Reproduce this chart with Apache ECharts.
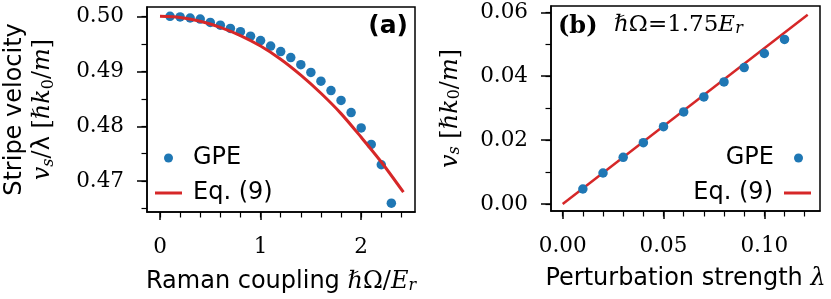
<!DOCTYPE html>
<html>
<head>
<meta charset="utf-8">
<script src="https://cdn.jsdelivr.net/npm/echarts@6/dist/echarts.min.js"></script>
<style>
html,body{margin:0;padding:0;background:#fff;}
#chart{width:831px;height:299px;}
</style>
</head>
<body>
<div id="chart"></div>
<script>
// ---- Panel (a): stripe velocity vs Raman coupling ----
const omegaGPE = [0.1,0.2,0.3,0.4,0.5,0.6,0.7,0.8,0.9,1.0,1.1,1.2,1.3,1.4,1.5,1.6,1.7,1.8,1.9,2.0,2.1,2.2,2.3];
const velGPE   = [0.5000,0.4999,0.4997,0.4995,0.4989,0.4984,0.4978,0.4972,0.4964,0.4956,0.4946,0.4936,0.4925,0.4912,0.4898,0.4882,0.4865,0.4847,0.4825,0.4797,0.4767,0.4730,0.4660];
const omegaEq  = [0,0.2,0.4,0.6,0.8,1.0,1.2,1.4,1.6,1.8,2.0,2.2,2.42];
const velEq    = [0.5000,0.4998,0.4991,0.4980,0.4965,0.4946,0.4922,0.4893,0.4860,0.4823,0.4780,0.4735,0.4680];

// ---- Panel (b): v_s vs perturbation strength ----
const lamGPE = [0.01,0.02,0.03,0.04,0.05,0.06,0.07,0.08,0.09,0.10,0.11];
const vsGPE  = [0.0047,0.0097,0.0146,0.0192,0.0242,0.0288,0.0335,0.0382,0.0427,0.0471,0.0515];
const lamEq  = [0,0.1215];
const vsEq   = [0,0.0592];

// ---- tick labels / tick positions ----
const aXMajor = [0,1,2];
const aXMinor = [0,0.2,0.4,0.6,0.8,1.0,1.2,1.4,1.6,1.8,2.0,2.2,2.4];
const aYMajor = [0.47,0.48,0.49,0.50];
const aYMinor = [0.465,0.47,0.475,0.48,0.485,0.49,0.495,0.50];
const bXMajor = [0,0.05,0.10];
const bXMinor = [0,0.01,0.02,0.03,0.04,0.05,0.06,0.07,0.08,0.09,0.10,0.11,0.12];
const bYMajor = [0,0.02,0.04,0.06];
const bYMinor = [0,0.01,0.02,0.03,0.04,0.05,0.06];

const BLUE = '#1f77b4', RED = '#d62728';
const SANS = 'DejaVu Sans', SERIF = 'DejaVu Serif';
const FS = 24;
const rich = {
  t:   {fontFamily: SANS, fontSize: FS, color:'#000'},
  m:   {fontFamily: SERIF, fontStyle:'italic', fontSize: FS, color:'#000'},
  mu:  {fontFamily: SERIF, fontSize: FS, color:'#000'},
  sub: {fontFamily: SERIF, fontSize: 16, color:'#000', verticalAlign:'bottom'},
  subi:{fontFamily: SERIF, fontStyle:'italic', fontSize: 16, color:'#000', verticalAlign:'bottom'}
};
const zip = (a,b) => a.map((v,i)=>[v,b[i]]);

const labelStyle = {fontFamily: SERIF, fontSize: 21.5, color:'#000'};
function majorAxis(gi, pos, min, max, ticks, len, margin, fmt, extra) {
  return Object.assign({
    type:'value', gridIndex: gi, position: pos, min, max,
    axisLine:{show:true, onZero:false, lineStyle:{color:'#000', width:1.5}},
    axisTick:{show:true, inside:false, length:len, customValues: ticks, lineStyle:{color:'#000', width:1.5}},
    axisLabel:Object.assign({show:true, margin, customValues: ticks, formatter: fmt}, labelStyle),
    splitLine:{show:false}
  }, extra||{});
}
function minorAxis(gi, pos, min, max, ticks) {
  return {
    type:'value', gridIndex: gi, position: pos, min, max,
    axisLine:{show:false, onZero:false},
    axisTick:{show:true, inside:false, length:5.5, customValues: ticks, lineStyle:{color:'#000', width:1.2}},
    axisLabel:{show:false},
    splitLine:{show:false}
  };
}
const legText = (pad) => ({fontFamily:SANS, fontSize:24, color:'#000', padding:pad});

const chart = echarts.init(document.getElementById('chart'), null, {renderer:'canvas'});
chart.setOption({
  animation:false,
  backgroundColor:'#fff',
  grid:[
    {left:146, top:7, width:269, height:206, show:true, borderColor:'#000', borderWidth:1.5, backgroundColor:'transparent'},
    {left:551, top:6, width:269, height:205, show:true, borderColor:'#000', borderWidth:1.5, backgroundColor:'transparent'}
  ],
  xAxis:[
    majorAxis(0, 'bottom', -0.129, 2.535, aXMajor, 8, 24, v=>String(Math.round(v)), {
      name:'{t|Raman coupling }{m|ℏ}{mu|Ω/}{m|E}{subi|r}', nameLocation:'middle', nameGap:58,
      nameTextStyle:{rich}
    }),
    minorAxis(0, 'bottom', -0.129, 2.535, aXMinor),
    majorAxis(1, 'bottom', -0.0058, 0.1276, bXMajor, 8, 24, v=>v.toFixed(2), {
      name:'{t|Perturbation strength }{m|λ}', nameLocation:'middle', nameGap:56,
      nameTextStyle:{rich}
    }),
    minorAxis(1, 'bottom', -0.0058, 0.1276, bXMinor)
  ],
  yAxis:[
    majorAxis(0, 'left', 0.4644, 0.5017, aYMajor, 10, 23, v=>v.toFixed(2), {
      name:'{t|Stripe velocity}\n{m|v}{subi|s}{mu|/}{t|λ}{mu| [}{m|ℏk}{sub|0}{mu|/}{m|m}{mu|]}', nameLocation:'middle', nameGap:90,
      nameTextStyle:{rich, align:'center', lineHeight:28}
    }),
    minorAxis(0, 'left', 0.4644, 0.5017, aYMinor),
    majorAxis(1, 'left', -0.00219, 0.06197, bYMajor, 10, 23, v=>v.toFixed(2), {
      name:'{m|v}{subi|s}{mu| [}{m|ℏk}{sub|0}{mu|/}{m|m}{mu|]}', nameLocation:'middle', nameGap:88,
      nameTextStyle:{rich}
    }),
    minorAxis(1, 'left', -0.00219, 0.06197, bYMinor)
  ],
  legend:[
    {data:[{name:'GPE', icon:'circle'}], left:164, top:146, padding:0, orient:'vertical', itemWidth:27, itemHeight:9,
     textStyle:legText([0,0,0,6]), selectedMode:false},
    {data:[{name:'Eq. (9)', icon:'rect'}], left:155, top:181, padding:0, orient:'vertical', itemWidth:27, itemHeight:3,
     textStyle:legText([0,0,0,6]), selectedMode:false},
    {data:[{name:'GPE', icon:'circle'}], right:28, top:146, padding:0, orient:'vertical', align:'right', itemWidth:27, itemHeight:9,
     textStyle:legText([0,6,0,0]), selectedMode:false},
    {data:[{name:'Eq. (9)', icon:'rect'}], right:20, top:181, padding:0, orient:'vertical', align:'right', itemWidth:27, itemHeight:3,
     textStyle:legText([0,6,0,0]), selectedMode:false}
  ],
  series:[
    {name:'GPE', type:'scatter', xAxisIndex:0, yAxisIndex:0, data: zip(omegaGPE, velGPE),
     symbolSize:9.5, itemStyle:{color:BLUE, opacity:1}, z:2},
    {name:'Eq. (9)', type:'line', xAxisIndex:0, yAxisIndex:0, data: zip(omegaEq, velEq),
     smooth:0.3, showSymbol:false, lineStyle:{color:RED, width:3}, itemStyle:{color:RED}, z:3},
    {name:'Eq. (9)', type:'line', xAxisIndex:2, yAxisIndex:2, data: zip(lamEq, vsEq),
     showSymbol:false, lineStyle:{color:RED, width:2.5}, itemStyle:{color:RED}, z:2},
    {name:'GPE', type:'scatter', xAxisIndex:2, yAxisIndex:2, data: zip(lamGPE, vsGPE),
     symbolSize:9.5, itemStyle:{color:BLUE, opacity:1}, z:3}
  ],
  graphic:[
    {type:'text', right: 831-408, top: 14, style:{text:'(a)', font:'bold 25px "DejaVu Sans"', fill:'#000'}},
    {type:'text', left: 558, top: 15, style:{text:'(b)', font:'bold 24px "DejaVu Serif"', fill:'#000'}},
    {type:'text', left: 614, top: 14, style:{text:'{m|ℏ}{mu|Ω=1.75}{m|E}{subi|r}', rich: Object.assign({}, rich, {
      m:{fontFamily: SERIF, fontStyle:'italic', fontSize: 23, color:'#000'},
      mu:{fontFamily: SERIF, fontSize: 23, color:'#000'}})}}
  ]
});
</script>
</body>
</html>
